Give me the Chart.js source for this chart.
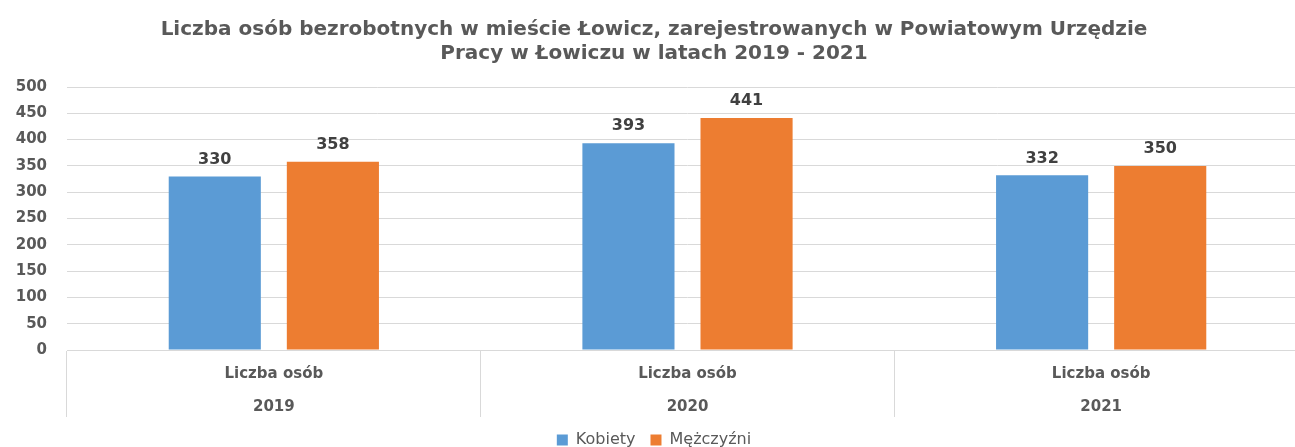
<!DOCTYPE html>
<html>
<head>
<meta charset="utf-8">
<script src="https://cdn.jsdelivr.net/npm/chart.js@4.4.1/dist/chart.umd.min.js"></script>
<style>
  html, body { margin: 0; padding: 0; background: #fff; overflow: hidden; }
  #wrap { width: 1312px; height: 458px; position: relative; }
</style>
</head>
<body>
<div id="wrap"><canvas id="chart"></canvas></div>
<script>
// values
const years = ['2019', '2020', '2021'];
const groupLabel = 'Liczba osób';
const kobiety = [330, 393, 332];
const mezczyzni = [358, 441, 350];
const seriesNames = ['Kobiety', 'Mężczyźni'];

const gray = '#595959';

// draws the value above each bar
const barValues = {
    id: 'barValues',
    afterDatasetsDraw(chart) {
        const ctx = chart.ctx;
        ctx.save();
        ctx.font = 'bold 16px "DejaVu Sans"';
        ctx.fillStyle = '#404040';
        ctx.textAlign = 'center';
        ctx.textBaseline = 'bottom';
        chart.data.datasets.forEach((ds, i) => {
            chart.getDatasetMeta(i).data.forEach((bar, j) => {
                ctx.fillText(ds.data[j], bar.x, bar.y - 9);
            });
        });
        ctx.restore();
    }
};

// two-level category labels under the x axis
const groupLabels = {
    id: 'groupLabels',
    afterDraw(chart) {
        const ctx = chart.ctx;
        const x = chart.scales.x;
        ctx.save();
        ctx.font = 'bold 15px "DejaVu Sans"';
        ctx.fillStyle = gray;
        ctx.textAlign = 'center';
        ctx.textBaseline = 'middle';
        years.forEach((y, i) => {
            const px = x.getPixelForValue(i);
            ctx.fillText(groupLabel, px, x.top + 24);
            ctx.fillText(y, px, x.top + 57);
        });
        ctx.restore();
    }
};

new Chart(document.getElementById('chart'), {
    type: 'bar',
    data: {
        labels: years,
        datasets: [
            { label: seriesNames[0], data: kobiety, backgroundColor: '#5b9bd5' },
            { label: seriesNames[1], data: mezczyzni, backgroundColor: '#ed7d31' }
        ]
    },
    options: {
        responsive: true,
        maintainAspectRatio: false,
        animation: false,
        categoryPercentage: 0.571,
        barPercentage: 0.78,
        layout: { padding: { left: 0, right: 4, top: 0, bottom: 0 } },
        plugins: {
            title: {
                display: true,
                text: ['Liczba osób bezrobotnych w mieście Łowicz, zarejestrowanych w Powiatowym Urzędzie',
                       'Pracy w Łowiczu w latach 2019 - 2021'],
                color: gray,
                font: { family: 'DejaVu Sans', size: 20, weight: 'bold', lineHeight: 1.2 },
                padding: { top: 18, bottom: 21 }
            },
            legend: {
                position: 'bottom',
                labels: {
                    color: gray,
                    boxWidth: 11,
                    boxHeight: 11,
                    padding: 15,
                    font: { family: 'DejaVu Sans', size: 16 }
                }
            },
            tooltip: { enabled: false }
        },
        scales: {
            x: {
                offset: true,
                border: { display: true, color: '#d9d9d9' },
                grid: {
                    offset: true,
                    drawOnChartArea: false,
                    drawTicks: true,
                    tickLength: 67,
                    color: '#d9d9d9'
                },
                ticks: { display: false },
                afterFit(scale) { scale.height = 67; }
            },
            y: {
                min: 0,
                max: 500,
                border: { display: false },
                grid: { color: '#d9d9d9', drawTicks: false },
                ticks: {
                    stepSize: 50,
                    padding: 20,
                    color: gray,
                    font: { family: 'DejaVu Sans', size: 15, weight: 'bold' }
                },
                afterFit(scale) { scale.width = 67; }
            }
        }
    },
    plugins: [barValues, groupLabels]
});
</script>
</body>
</html>
